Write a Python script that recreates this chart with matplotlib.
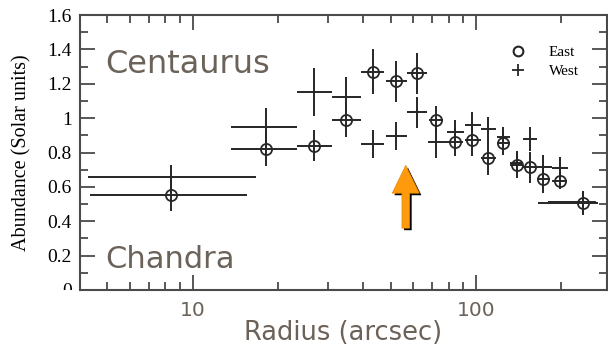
import matplotlib
matplotlib.use("Agg")
import matplotlib.pyplot as plt
import matplotlib.patheffects as pe
from matplotlib.lines import Line2D
from matplotlib.patches import Rectangle
import numpy as np

# radial bins (arcsec): centre, inner edge, outer edge
east_r = [8.4, 18.1, 26.9, 34.8, 43.4, 52.2, 61.9, 72.3, 84.4, 96.8, 110, 124.5, 139, 155, 172, 198, 238]
east_lo = [4.33, 13.6, 23.4, 31.1, 39.4, 48.2, 57.2, 68.4, 79.1, 91.4, 104.2, 118.6, 132, 146.6, 164, 185.5, 165]
east_hi = [15.6, 23.4, 31.1, 39.4, 47.4, 57.2, 67.1, 76.6, 90.0, 104.2, 117.5, 131.8, 146.6, 164, 182.4, 209, 269]
east_z = [0.55, 0.82, 0.84, 0.99, 1.27, 1.215, 1.26, 0.99, 0.86, 0.87, 0.77, 0.855, 0.73, 0.715, 0.645, 0.635, 0.505]
east_err = [0.09, 0.10, 0.09, 0.10, 0.13, 0.12, 0.12, 0.08, 0.08, 0.09, 0.10, 0.07, 0.08, 0.09, 0.08, 0.05, 0.07]

west_r = [8.4, 18.1, 26.7, 34.8, 43.4, 52.2, 61.9, 72.3, 84.4, 96.8, 110, 124.5, 139, 155, 172, 198, 238]
west_lo = [4.27, 13.6, 23.4, 31.1, 39.4, 48.2, 57.2, 67.7, 79.1, 91.4, 104.2, 118.6, 132, 146.6, 164, 185.5, 179]
west_hi = [16.7, 23.4, 31.1, 39.4, 47.4, 57.2, 67.1, 78.9, 90.4, 104.2, 117.5, 131.8, 146.6, 164, 186, 212, 266]
west_z = [0.66, 0.95, 1.15, 1.12, 0.85, 0.895, 1.035, 0.86, 0.92, 0.96, 0.935, 0.89, 0.74, 0.88, 0.715, 0.71, 0.51]
west_err = [0.07, 0.11, 0.14, 0.12, 0.08, 0.08, 0.09, 0.09, 0.07, 0.075, 0.07, 0.06, 0.06, 0.07, 0.07, 0.065, 0.06]

yticks = [0, 0.2, 0.4, 0.6, 0.8, 1.0, 1.2, 1.4, 1.6]
ylabels = ['0', '0.2', '0.4', '0.6', '0.8', '1', '1.2', '1.4', '1.6']

arrow_r = 56.5           # arrow marks this radius
arrow_y = (0.36, 0.725)  # tail, tip

grey = '#6b6259'
ink = '#262626'

fig = plt.figure(figsize=(6.08, 3.47), dpi=100)
ax = fig.add_axes([80/608, 57/347, 527/608, 275/347])

def xerrs(r, lo, hi):
    r = np.array(r)
    return [r - np.array(lo), np.array(hi) - r]

ax.errorbar(west_r, west_z, yerr=west_err, xerr=xerrs(west_r, west_lo, west_hi),
            fmt='none', ecolor=ink, elinewidth=1.4, capsize=0)
ax.errorbar(east_r, east_z, yerr=east_err, xerr=xerrs(east_r, east_lo, east_hi),
            fmt='o', color=ink, mfc='none', mec=ink, ms=8, mew=1.3,
            ecolor=ink, elinewidth=1.4, capsize=0)

ax.set_xscale('log')
ax.set_xlim(4, 290)
ax.set_ylim(0, 1.6)
ax.set_xticks([10, 100])
ax.set_xticklabels(['10', '100'])
ax.set_yticks(yticks)
ax.set_yticklabels(ylabels)
ax.set_yticks(np.arange(0.1, 1.6, 0.2), minor=True)

for s in ax.spines.values():
    s.set_color('#4a4a4a')
    s.set_linewidth(1.5)
ax.tick_params(which='both', direction='in', top=True, right=True, color='#4a4a4a', width=1.3)
ax.tick_params(which='major', length=10.5)
ax.tick_params(which='minor', length=5.5)
ax.tick_params(axis='x', which='minor', labelbottom=False)
ax.tick_params(axis='x', labelsize=14.5, labelcolor=grey, pad=8)
ax.tick_params(axis='y', labelsize=14, pad=6)
for t in ax.get_yticklabels():
    t.set_family('Liberation Serif')

ax.set_xlabel('Radius (arcsec)', fontsize=18.5, color=grey, labelpad=0)
ax.set_ylabel('Abundance (Solar units)', fontsize=14.5, family='Liberation Serif', labelpad=11)

ax.text(0.047, 0.789, 'Centaurus', transform=ax.transAxes, fontsize=23, color=grey, va='baseline')
ax.text(0.047, 0.08, 'Chandra', transform=ax.transAxes, fontsize=22, color=grey, va='baseline')

handles = [Line2D([], [], ls='none', marker='o', mfc='none', mec=ink, mew=1.5, ms=7),
           Line2D([], [], ls='none', marker='+', color=ink, mew=1.3, ms=8)]
ax.legend(handles, ['East', 'West'], loc='upper right', bbox_to_anchor=(0.972, 0.94),
          frameon=False, prop={'family': 'Liberation Serif', 'size': 11},
          handlelength=1.2, handletextpad=1.4, labelspacing=0.35)

ax.annotate('', xy=(arrow_r, arrow_y[1]), xytext=(arrow_r, arrow_y[0]),
            arrowprops=dict(arrowstyle='simple,head_length=20,head_width=19.5,tail_width=5.5',
                            mutation_scale=1, shrinkA=0, shrinkB=0,
                            fc='#ff9a0d', ec='#e88a00', lw=0.5,
                            path_effects=[pe.SimplePatchShadow(offset=(1.5, -1.5), shadow_rgbFace='k', alpha=1),
                                          pe.Normal()]))

# white mask over the lower half of the '0' label
fig.patches.append(Rectangle((0, 0), 79/608, 57/347, transform=fig.transFigure,
                             fc='white', ec='none', zorder=5))

fig.savefig('out.png', dpi=100)
